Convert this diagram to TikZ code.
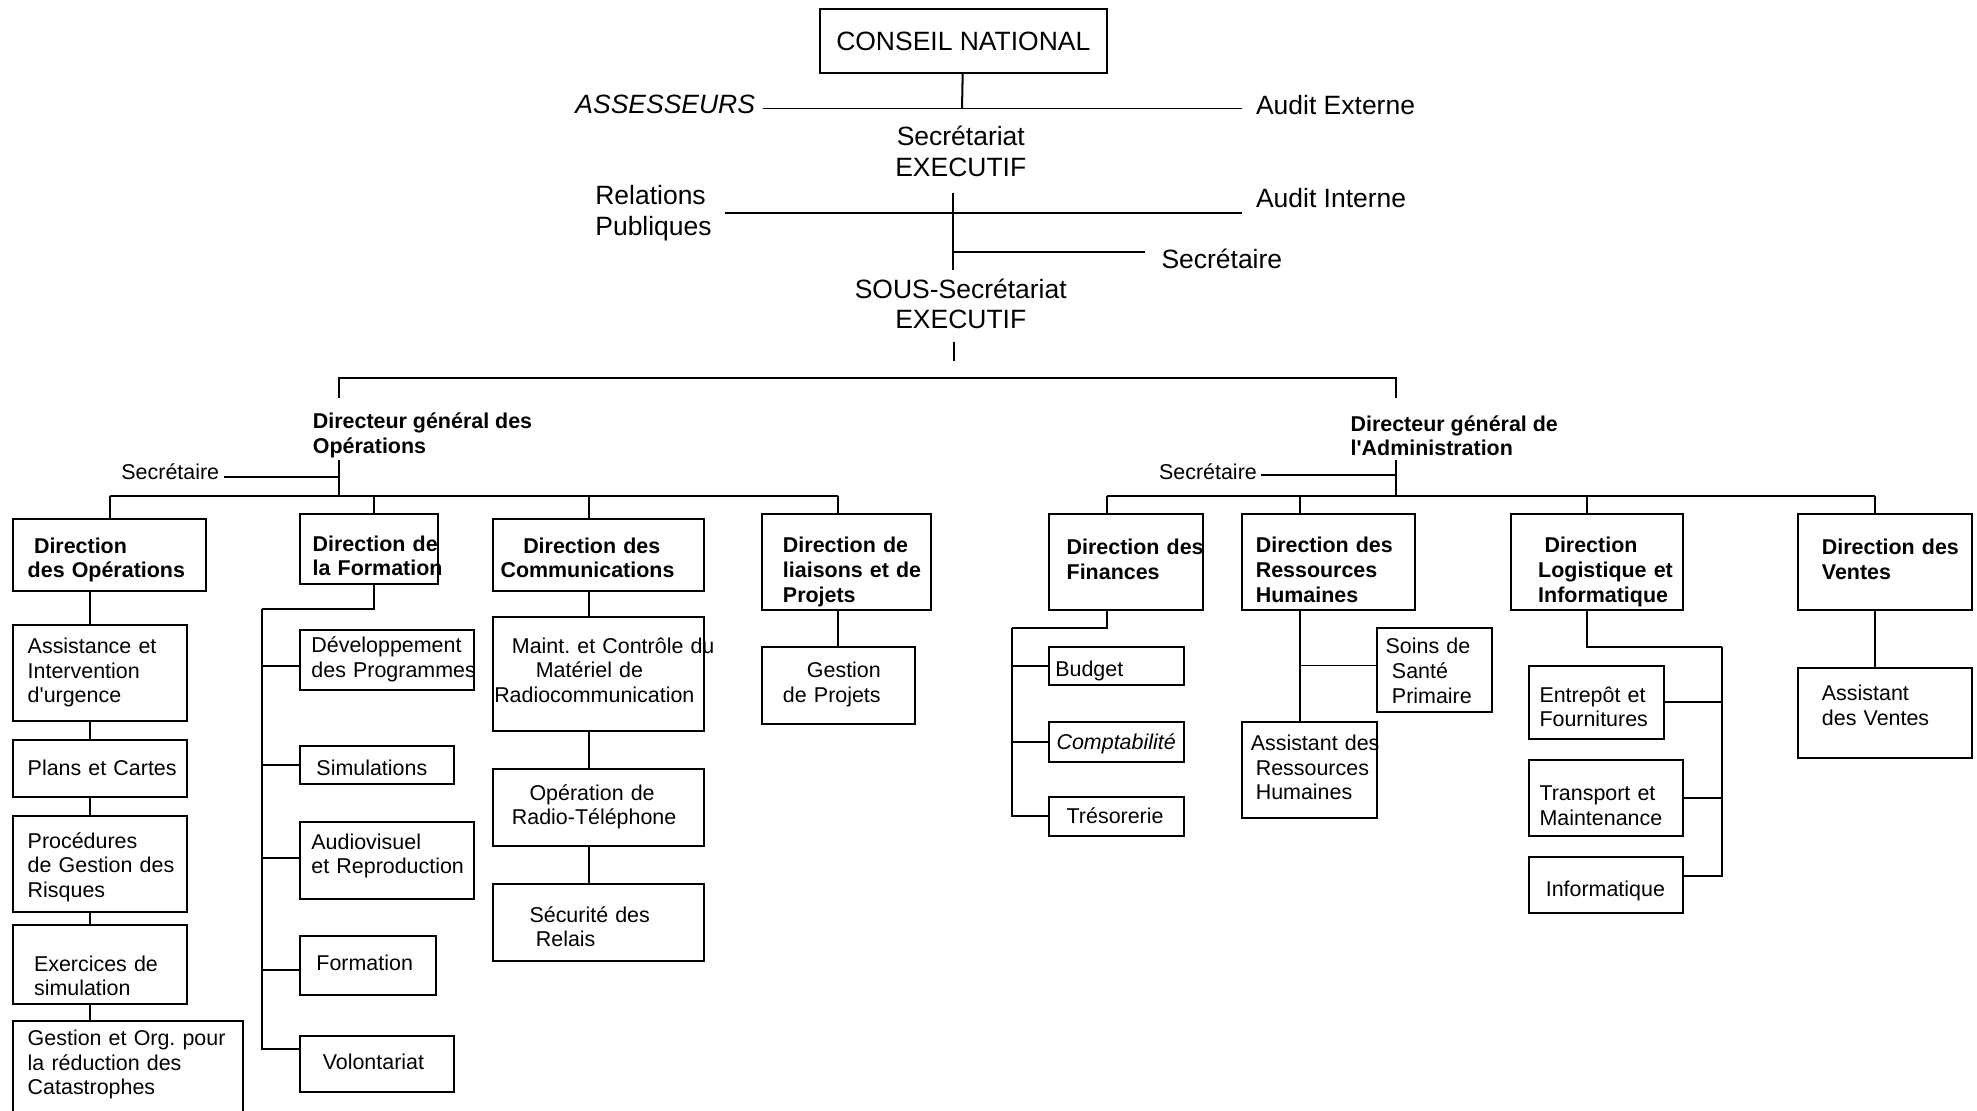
\documentclass[tikz,border=0pt]{standalone}
\usepackage{fontspec}
\setmainfont{Liberation Sans}[Ligatures=TeXOff]
\frenchspacing
\newcommand{\chartbig}{\fontsize{21}{24}\selectfont}
\newcommand{\chartsmall}{\fontsize{17}{19.5}\selectfont}
\newcommand{\boxlines}[1]{\begin{tabular}{@{}l@{}}#1\end{tabular}}
\tikzset{
  box/.style={draw, line width=1.6pt, align=left, inner ysep=0pt, font=\chartsmall},
  hbox/.style={box, font=\chartsmall\bfseries},
  lbl/.style={inner sep=0pt, font=\chartbig},
  link/.style={line width=1.6pt},
  thinlink/.style={line width=0.8pt}
}
\begin{document}
\begin{tikzpicture}[x=1pt, y=-1pt]
  \clip (0,0) rectangle (1568,881);
  \fill[white] (0,0) rectangle (1568,881);

  %Top level
  \node[draw, line width=1.6pt, minimum width=228pt, minimum height=51pt, font=\chartbig] (cn) at (764,32.5) {CONSEIL NATIONAL};
  \node[lbl, anchor=east, font=\chartbig\itshape] (assess) at (599,83) {ASSESSEURS};
  \node[lbl, anchor=west] (audext) at (996,83) {Audit Externe};
  \coordinate (j1) at (763,86);
  \draw[link] (cn) -- (j1);
  \draw[thinlink] ([xshift=6pt,yshift=-3pt]assess.east) -- ([xshift=-11pt,yshift=-3pt]audext.west);

  \node[lbl, align=center] (secexec) at (762,120) {Secrétariat\\EXECUTIF};
  \node[lbl, anchor=west, align=left] (relpub) at (472,169) {Relations\\Publiques};
  \node[lbl, anchor=west] (audint) at (996,157) {Audit Interne};
  \node[lbl, anchor=west] (sec1) at (921,205) {Secrétaire};
  \coordinate (v1) at (756,153);
  \coordinate (v2) at (756,214);
  \draw[link] (v1) -- (v2);
  \draw[link] ([xshift=10pt]relpub.east) -- ([xshift=-11pt,yshift=-12pt]audint.west);
  \draw[link] (v1 |- 0,200) -- ([xshift=-13pt,yshift=5pt]sec1.west);

  \node[lbl, align=center] (sousexec) at (762,241) {SOUS-Secrétariat\\EXECUTIF};
  \draw[link] (757,271) -- (757,286);

  %Directeurs generaux
  \node[lbl, anchor=west, align=left, font=\chartsmall\bfseries] (dgo) at (248,345.5) {Directeur général des\\Opérations};
  \node[lbl, anchor=west, align=left, font=\chartsmall\bfseries] (dga) at (1071,345.5) {Directeur général de\\l'Administration};
  \coordinate (go) at (269,300);
  \coordinate (ga) at (1107,300);
  \draw[link] (go |- 0,316) -- (go) -- (ga) -- (ga |- 0,316);

  \node[lbl, anchor=east, font=\chartsmall] (sec2) at (174,374) {Secrétaire};
  \node[lbl, anchor=east, font=\chartsmall] (sec3) at (997,374) {Secrétaire};
  \draw[link] (go |- 0,365) -- (go |- 0,393);
  \draw[link] (ga |- 0,365) -- (ga |- 0,393);
  \draw[link] ([xshift=4pt,yshift=-4pt]sec2.east) -- (go |- 0,378);
  \draw[link] ([xshift=3pt,yshift=-3pt]sec3.east) -- (ga |- 0,377);

  %Buses
  \coordinate (b1) at (87,393);
  \coordinate (b2) at (297,393);
  \coordinate (b3) at (467,393);
  \coordinate (b4) at (665,393);
  \coordinate (b5) at (878,393);
  \coordinate (b6) at (1031,393);
  \coordinate (b7) at (1259,393);
  \coordinate (b8) at (1487,393);
  \draw[link] (b1) -- (b4);
  \draw[link] (b5) -- (b8);

  %Direction des Operations
  \node[hbox, text width=129pt, inner xsep=12pt, minimum height=57pt] (do) at (86.5,440.5) {\boxlines{\rule{0pt}{22pt}\hspace*{5pt}Direction\\des Opérations}};
  \node[box, text width=114pt, inner xsep=12pt, minimum height=76pt] (assist) at (79,534) {\boxlines{Assistance et\\Intervention\\d'urgence}};
  \node[box, text width=114pt, inner xsep=12pt, minimum height=45pt] (plans) at (79,609.5) {\boxlines{\raisebox{-2pt}[0pt][0pt]{Plans et Cartes}}};
  \node[box, text width=114pt, inner xsep=12pt, minimum height=76pt] (proc) at (79,685) {\boxlines{\rule{0pt}{20pt}Procédures\\de Gestion des\\Risques}};
  \node[box, text width=104pt, inner xsep=17pt, minimum height=62pt] (exer) at (79,765) {\boxlines{\rule{0pt}{36pt}Exercices de\\simulation}};
  \node[box, text width=159pt, inner xsep=12pt, inner ysep=6pt, anchor=north] (gestcat) at (101.5,809) {\boxlines{Gestion et Org. pour\\la réduction des\\Catastrophes\\[60pt]}};
  \draw[link] (b1) -- (do.north -| b1);
  \draw[link] (do.south -| 71,0) -- (assist.north -| 71,0);
  \draw[link] (assist.south -| 71,0) -- (plans.north -| 71,0);
  \draw[link] (plans.south -| 71,0) -- (proc.north -| 71,0);
  \draw[link] (proc.south -| 71,0) -- (exer.north -| 71,0);
  \draw[link] (exer.south -| 71,0) -- (gestcat.north -| 71,0);

  %Direction de la Formation
  \node[hbox, text width=89pt, inner xsep=10pt, minimum height=55pt] (df) at (292.5,435.5) {\boxlines{\rule{0pt}{29pt}Direction de\\la Formation}};
  \node[box, text width=120pt, inner xsep=9pt, minimum height=47pt] (dev) at (307,523.5) {\boxlines{Développement\\des Programmes}};
  \node[box, text width=96pt, inner xsep=13pt, minimum height=30pt] (simu) at (299,607) {\boxlines{\raisebox{-4pt}[0pt][0pt]{Simulations}}};
  \node[box, text width=120pt, inner xsep=9pt, minimum height=61pt] (audio) at (307,682.5) {\boxlines{Audiovisuel\\et Reproduction\\[6pt]}};
  \node[box, text width=82pt, inner xsep=13pt, minimum height=47pt] (form) at (292,765.5) {\boxlines{Formation}};
  \node[box, text width=86pt, inner xsep=18pt, minimum height=44pt] (volo) at (299,844) {\boxlines{Volontariat}};
  \coordinate (fsp) at (208,483);
  \draw[link] (b2) -- (df.north -| b2);
  \draw[link] (df.south -| b2) |- (fsp);
  \foreach \n/\s in {dev/-5,simu/0,audio/2,form/-4,volo/12}
    \draw[link] (fsp) |- ([yshift=\s pt]\n.west);

  %Direction des Communications
  \node[hbox, text width=155pt, inner xsep=6pt, minimum height=57pt] (dc) at (474.5,440.5) {\boxlines{\rule{0pt}{22pt}\hspace*{18pt}Direction des\\Communications}};
  \node[box, text width=165pt, inner xsep=1pt, minimum height=91pt] (maint) at (474.5,534.5) {\boxlines{\hspace*{14pt}Maint. et Contrôle du\\\hspace*{33pt}Matériel de\\Radiocommunication\\[2pt]}};
  \node[box, text width=137pt, inner xsep=15pt, minimum height=61pt] (oper) at (474.5,640.5) {\boxlines{\hspace*{14pt}Opération de\\Radio-Téléphone}};
  \node[box, text width=109pt, inner xsep=29pt, minimum height=61pt] (secu) at (474.5,731.5) {\boxlines{\rule{0pt}{25pt}Sécurité des\\\hspace*{5pt}Relais}};
  \draw[link] (b3) -- (dc.north -| b3);
  \draw[link] (dc.south -| b3) -- (maint.north -| b3);
  \draw[link] (maint.south -| b3) -- (oper.north -| b3);
  \draw[link] (oper.south -| b3) -- (secu.north -| b3);

  %Direction de liaisons et de Projets
  \node[hbox, text width=100pt, inner xsep=17pt, minimum height=76pt] (dlp) at (671,446) {\boxlines{\rule{0pt}{30pt}Direction de\\liaisons et de\\Projets}};
  \node[box, text width=88pt, inner xsep=17pt, minimum height=61pt] (gproj) at (665,543.5) {\boxlines{\hspace*{19pt}Gestion\\de Projets}};
  \draw[link] (b4) -- (dlp.north -| b4);
  \draw[link] (dlp.south -| b4) -- (gproj.north -| b4);

  %Direction des Finances
  \node[hbox, text width=94pt, inner xsep=14pt, minimum height=76pt] (dfin) at (893,446) {\boxlines{Direction des\\Finances}};
  \node[box, text width=97pt, inner xsep=5pt, minimum height=30pt] (budget) at (885.5,528) {\boxlines{\raisebox{-5pt}[0pt][0pt]{Budget}}};
  \node[box, text width=95pt, inner xsep=6pt, minimum height=31pt, font=\chartsmall\itshape] (compta) at (885.5,588.5) {\boxlines{\raisebox{-2pt}[0pt][0pt]{Comptabilité}}};
  \node[box, text width=79pt, inner xsep=14pt, minimum height=31pt] (treso) at (885.5,647.5) {\boxlines{\raisebox{-2pt}[0pt][0pt]{Trésorerie}}};
  \coordinate (finj) at (803,498);
  \draw[link] (b5) -- (dfin.north -| b5);
  \draw[link] (dfin.south -| b5) |- (finj);
  \foreach \n in {budget,compta,treso}
    \draw[link] (finj) |- (\n.west);

  %Direction des Ressources Humaines
  \node[hbox, text width=115pt, inner xsep=11pt, minimum height=76pt] (drh) at (1053.5,446) {\boxlines{\rule{0pt}{30pt}Direction des\\Ressources\\Humaines}};
  \node[box, text width=77pt, inner xsep=7pt, minimum height=67pt] (soins) at (1137.5,531.5) {\boxlines{\rule{0pt}{19pt}Soins de\\\hspace*{5pt}Santé\\\hspace*{5pt}Primaire}};
  \node[box, text width=93pt, inner xsep=7pt, minimum height=76pt] (asrh) at (1038.5,611) {\boxlines{Assistant des\\\hspace*{4pt}Ressources\\\hspace*{4pt}Humaines}};
  \draw[link] (b6) -- (drh.north -| b6);
  \draw[link] (drh.south -| b6) -- (asrh.north -| b6);
  \draw[thinlink] ([yshift=4pt]soins.west -| b6) -- ([yshift=4pt]soins.west);

  %Direction Logistique et Informatique
  \node[hbox, text width=93pt, inner xsep=22pt, minimum height=76pt] (dli) at (1266.5,446) {\boxlines{\rule{0pt}{30pt}\hspace*{5pt}Direction\\Logistique et\\Informatique}};
  \node[box, text width=91pt, inner xsep=8pt, minimum height=58pt] (entre) at (1266.5,557) {\boxlines{\rule{0pt}{25pt}Entrepôt et\\Fournitures}};
  \node[box, text width=106pt, inner xsep=8pt, minimum height=60pt] (trans) at (1274,633) {\boxlines{\rule{0pt}{29pt}Transport et\\Maintenance}};
  \node[box, text width=96pt, inner xsep=13pt, minimum height=44pt] (info) at (1274,702) {\boxlines{\raisebox{-5pt}[0pt][0pt]{Informatique}}};
  \coordinate (lj) at (1366,513);
  \draw[link] (b7) -- (dli.north -| b7);
  \draw[link] (dli.south -| b7) |- (lj);
  \foreach \n/\s in {entre/0,trans/0,info/7}
    \draw[link] (lj) |- ([yshift=\s pt]\n.east);

  %Direction des Ventes
  \node[hbox, text width=100pt, inner xsep=19pt, minimum height=76pt] (dv) at (1495,446) {\boxlines{Direction des\\Ventes}};
  \node[box, text width=100pt, inner xsep=19pt, minimum height=71pt] (asv) at (1495,565.5) {\boxlines{Assistant\\des Ventes\\[8pt]}};
  \draw[link] (b8) -- (dv.north -| b8);
  \draw[link] (dv.south -| b8) -- (asv.north -| b8);
\end{tikzpicture}
\end{document}
